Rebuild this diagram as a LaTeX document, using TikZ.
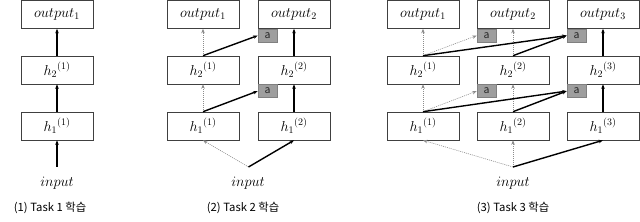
\documentclass[tikz,border=0pt]{standalone}
\usepackage{fontspec}
\newfontfamily\krfont{Noto Sans CJK KR}
\usetikzlibrary{arrows.meta}

\tikzset{
  unit/.style={draw=black!75, line width=0.6pt, minimum width=72pt, minimum height=28pt,
    inner sep=0pt, font=\fontsize{14}{16}\selectfont},
  gate/.style={draw=black!50, fill=black!38, line width=0.6pt, minimum width=19pt,
    minimum height=13pt, inner sep=0pt, anchor=north west, text=black!85,
    font=\krfont\fontsize{10.5}{10.5}\selectfont},
  signal/.style={font=\fontsize{14}{16}\selectfont},
  main/.style={->, line width=1.4pt},
  frozen/.style={->, black!45, dash pattern=on 1pt off 1pt, line width=0.6pt},
  caption/.style={font=\krfont\fontsize{11.3}{13}\selectfont}
}

\begin{document}
\begin{tikzpicture}[x=1pt, y=1pt, >={Stealth[length=4.5pt, width=3.5pt]}]
  \useasboundingbox (0,0) rectangle (640,222);

  % (1) task 1
  \node[unit] (p1o-1) at (57,207.5) {$output_1$};
  \node[unit] (p1t-1) at (57,152) {${h_2}^{(1)}$};
  \node[unit] (p1b-1) at (57,96) {${h_1}^{(1)}$};
  \node[signal] (p1in) at (57,39) {$input$};
  \coordinate (p1src) at (57,55);
  \draw[main] (p1src) -- (p1b-1.south);
  \draw[main] (p1b-1) -- (p1t-1);
  \draw[main] (p1t-1) -- (p1o-1);
  \node[caption] (p1cap) at (50,14) {(1) Task 1 학습};

  % (2) task 2
  \foreach \c/\x in {1/203, 2/294} {
    \node[unit] (p2o-\c) at (\x,207.5) {$output_\c$};
    \node[unit] (p2t-\c) at (\x,152) {${h_2}^{(\c)}$};
    \node[unit] (p2b-\c) at (\x,96) {${h_1}^{(\c)}$};
  }
  \node[gate] (p2go-2) at (p2o-2.south west) {a};
  \node[gate] (p2gt-2) at (p2t-2.south west) {a};
  \node[signal] (p2in) at (248,39) {$input$};
  \coordinate (p2src) at (248.5,55);
  \draw[frozen] (p2src) -- (p2b-1.south);
  \draw[main] (p2src) -- (p2b-2.south);
  \draw[frozen] (p2b-1) -- (p2t-1);
  \draw[frozen] (p2t-1) -- (p2o-1);
  \draw[main] (p2b-1.north) -- (p2gt-2.west);
  \draw[main] (p2t-1.north) -- (p2go-2.west);
  \draw[main] (p2b-2) -- (p2t-2);
  \draw[main] (p2t-2) -- (p2o-2);
  \node[caption] (p2cap) at (243,14) {(2) Task 2 학습};

  % (3) task 3
  \foreach \c/\x in {1/423, 2/513, 3/603} {
    \node[unit] (p3o-\c) at (\x,207.5) {$output_\c$};
    \node[unit] (p3t-\c) at (\x,152) {${h_2}^{(\c)}$};
    \node[unit] (p3b-\c) at (\x,96) {${h_1}^{(\c)}$};
  }
  \foreach \c in {2,3} {
    \node[gate] (p3go-\c) at (p3o-\c.south west) {a};
    \node[gate] (p3gt-\c) at (p3t-\c.south west) {a};
  }
  \node[signal] (p3in) at (513,39) {$input$};
  \coordinate (p3src) at (513,55);
  \draw[frozen] (p3src) -- (p3b-1.south);
  \draw[frozen] (p3src) -- (p3b-2.south);
  \draw[main] (p3src) -- (p3b-3.south);
  \draw[frozen] (p3b-1) -- (p3t-1);
  \draw[frozen] (p3t-1) -- (p3o-1);
  \draw[frozen] (p3b-2) -- (p3t-2);
  \draw[frozen] (p3t-2) -- (p3o-2);
  \draw[frozen] (p3b-1.north) -- (p3gt-2.west);
  \draw[frozen] (p3t-1.north) -- (p3go-2.west);
  \draw[main] (p3b-1.north) -- (p3gt-3.west);
  \draw[main] (p3t-1.north) -- (p3go-3.west);
  \draw[main] (p3b-2.north) -- (p3gt-3.west);
  \draw[main] (p3t-2.north) -- (p3go-3.west);
  \draw[main] (p3b-3) -- (p3t-3);
  \draw[main] (p3t-3) -- (p3o-3);
  \node[caption] (p3cap) at (513,14) {(3) Task 3 학습};
\end{tikzpicture}
\end{document}
